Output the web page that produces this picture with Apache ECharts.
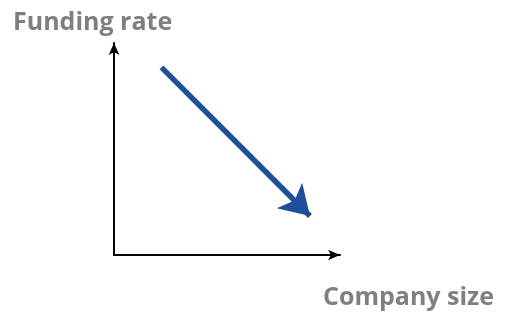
<!DOCTYPE html>
<html>
<head>
<meta charset="utf-8">
<script src="https://cdn.jsdelivr.net/npm/echarts@6/dist/echarts.min.js"></script>
<style>
  html, body { margin: 0; padding: 0; background: #fff; }
  #chart { width: 510px; height: 318px; }
</style>
</head>
<body>
<div id="chart"></div>
<script>
// conceptual trend: funding rate falls as company size grows
const axisNames = ['Company size', 'Funding rate']
const trendStart = [2.1, 8.85]
const trendEnd = [8.67, 1.84]

const chart = echarts.init(document.getElementById('chart'))

const axisCommon = {
  type: 'value',
  min: 0,
  max: 10,
  nameLocation: 'end',
  axisLine: {
    show: true,
    symbol: ['none', 'arrow'],
    symbolSize: [8, 12],
    symbolOffset: [0, 0],
    lineStyle: { color: '#000', width: 2 }
  },
  axisTick: { show: false },
  axisLabel: { show: false },
  splitLine: { show: false }
}

chart.setOption({
  animation: false,
  grid: {
    left: 114,
    right: 170,
    top: 43,
    bottom: 63
  },
  xAxis: Object.assign({}, axisCommon, {
    name: axisNames[0],
    nameGap: 0,
    nameTextStyle: {
      color: '#7f7f7f',
      fontFamily: 'Open Sans',
      fontWeight: 'bold',
      fontSize: 25,
      align: 'left',
      verticalAlign: 'top',
      padding: [30, 0, 0, -17]
    }
  }),
  yAxis: Object.assign({}, axisCommon, {
    name: axisNames[1],
    nameGap: 0,
    nameTextStyle: {
      color: '#7f7f7f',
      fontFamily: 'Open Sans',
      fontWeight: 'bold',
      fontSize: 25,
      align: 'left',
      verticalAlign: 'bottom',
      padding: [0, 0, 8, -101]
    }
  }),
  series: [{
    type: 'line',
    data: [],
    markLine: {
      silent: true,
      symbol: ['none', 'arrow'],
      symbolSize: [27, 29],
      label: { show: false },
      lineStyle: { color: '#1f4e9c', width: 5.5, type: 'solid' },
      data: [[{ coord: trendStart }, { coord: trendEnd }]]
    }
  }]
})
</script>
</body>
</html>
